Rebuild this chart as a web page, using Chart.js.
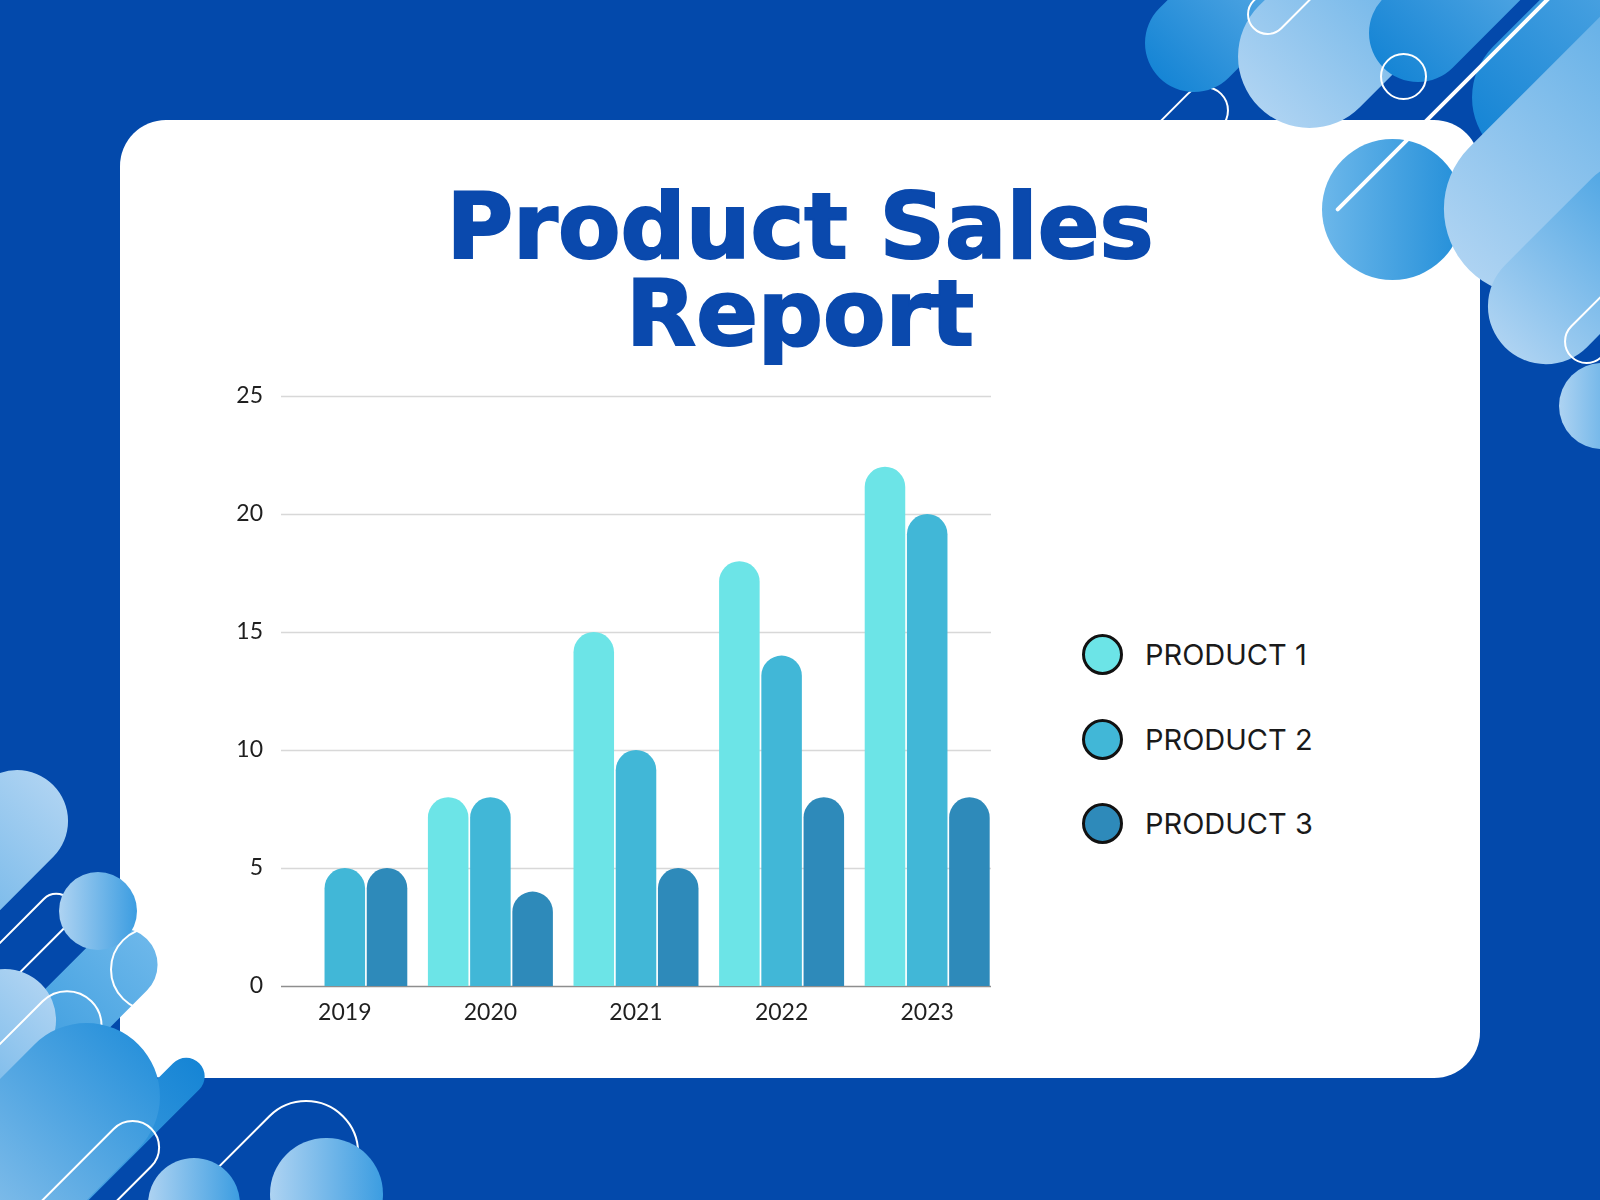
<!DOCTYPE html>
<html>
<head>
<meta charset="utf-8">
<script src="https://cdn.jsdelivr.net/npm/chart.js"></script>
<style>
  html, body { margin:0; padding:0; }
  body { width:1600px; height:1200px; background:#0349ab; position:relative; overflow:hidden; font-family:"Lato", sans-serif; }
  #tarjeta { position:absolute; left:120px; top:120px; width:1360px; height:958px; background:#fff; border-radius:46px; z-index:1; }
  #titulo { position:absolute; left:120px; width:1360px; top:183px; text-align:center; color:#0a49ad;
            font-family:"DejaVu Sans", sans-serif; font-weight:bold; font-size:91px; line-height:87px; z-index:3;
            -webkit-text-stroke:2px #0a49ad; }
  #grafico { position:absolute; left:190px; top:370px; z-index:3; }
  #leyenda { position:absolute; left:1082px; top:0; z-index:3; }
  .fila { position:absolute; left:0; display:flex; align-items:center; white-space:nowrap; height:44px; margin-top:-22px; }
  .punto { width:35px; height:35px; border:3px solid #111; border-radius:50%; }
  .fila span { margin-left:22px; font-size:29px; color:#1a1a1a; font-family:"Inter", sans-serif; }
  .claro { position:absolute; border-radius:9999px; background:linear-gradient(90deg,#aed3f2,#3c9de1); z-index:2; }
  .oscuro { position:absolute; border-radius:9999px; background:linear-gradient(90deg,#1685d5,#72b8ea); z-index:2; }
  .inverso { position:absolute; border-radius:9999px; background:linear-gradient(90deg,#2a92db,#b2d5f2); z-index:2; }
  .medio { position:absolute; border-radius:9999px; background:linear-gradient(90deg,#6cb7ea,#238fd9); z-index:2; }
  .borde { position:absolute; border-radius:9999px; border:2px solid #fff; box-sizing:border-box; z-index:2; }
  .borde0 { position:absolute; border-radius:9999px; border:2px solid #fff; box-sizing:border-box; z-index:0; }
</style>
</head>
<body>
<div id="tarjeta"></div>
<div id="titulo">Product Sales<br>Report</div>
<canvas id="grafico" width="815" height="666" style="width:815px;height:666px"></canvas>
<div id="leyenda"></div>
<script>
// datos
const anios = ['2019', '2020', '2021', '2022', '2023'];
const producto1 = [0, 8, 15, 18, 22];
const producto2 = [5, 8, 10, 14, 20];
const producto3 = [5, 4, 5, 8, 8];
const nombres = ['PRODUCT 1', 'PRODUCT 2', 'PRODUCT 3'];
const maxY = 25;
const pasoY = 5;

// escala de la imagen original (1568 de ancho) a la pagina
const k = 1600 / 1568;

// pieza decorativa: capsula con un extremo redondo en (cx,cy)
const pieza = (cx, cy, r, largo, grados, clase) => {
    const d = document.createElement('div');
    d.className = clase;
    d.style.left = (cx - r) * k + 'px';
    d.style.top = (cy - r) * k + 'px';
    d.style.width = (largo + 2 * r) * k + 'px';
    d.style.height = 2 * r * k + 'px';
    d.style.transformOrigin = r * k + 'px 50%';
    d.style.transform = 'rotate(' + grados + 'deg)';
    document.body.appendChild(d);
}

// arriba a la derecha
pieza(1180, 108, 24, 160, 135, 'borde0');
pieza(1170, 42, 48, 120, -45, 'oscuro');
pieza(1283, 55, 70, 200, -45, 'claro');
pieza(1390, 32, 48, 150, -45, 'oscuro');
pieza(1242, 14, 20, 80, -45, 'borde');
pieza(1513, 95, 70, 200, -45, 'oscuro');
pieza(1375, 75, 23, 0, 0, 'borde');
pieza(1365, 205, 69, 0, 0, 'medio');
pieza(1500, 205, 85, 260, -45, 'claro');
pieza(1515, 300, 57, 120, -45, 'claro');
pieza(1555, 335, 22, 100, -45, 'borde');
pieza(1570, 398, 42, 0, 0, 'claro');
pieza(1310, 205, 1, 300, -45, 'borde');

// abajo a la izquierda
pieza(17, 805, 50, 200, 135, 'claro');
pieza(55, 893, 18, 120, 135, 'borde');
pieza(118, 945, 36, 180, 135, 'medio');
pieza(96, 893, 38, 0, 0, 'claro');
pieza(150, 950, 42, 0, 0, 'borde');
pieza(5, 1000, 50, 150, 135, 'claro');
pieza(65, 1005, 35, 150, 135, 'borde');
pieza(183, 1055, 18, 300, 135, 'oscuro');
pieza(85, 1075, 72, 200, 135, 'inverso');
pieza(130, 1125, 27, 150, 135, 'borde');
pieza(300, 1130, 52, 200, 135, 'borde');
pieza(190, 1180, 45, 0, 0, 'claro');
pieza(320, 1170, 55, 0, 0, 'claro');

// lineas horizontales un poco mas cortas que el area del grafico
const lineasY = {
    id: 'lineasY',
    beforeDatasetsDraw: (chart) => {
        const { ctx, chartArea, scales } = chart;
        const margen = 9;
        ctx.save();
        ctx.lineWidth = 1.5;
        scales.y.ticks.forEach(t => {
            const y = Math.round(scales.y.getPixelForValue(t.value)) + 0.5;
            ctx.strokeStyle = t.value === 0 ? '#8e8e8e' : '#d8d8d8';
            ctx.beginPath();
            ctx.moveTo(chartArea.left + margen, y);
            ctx.lineTo(chartArea.right - margen, y);
            ctx.stroke();
        });
        ctx.restore();
    }
};

const ctx = document.getElementById('grafico').getContext('2d');
const fuenteEjes = { family: 'Lato', size: 23 };

const grafico = new Chart(ctx, {
    type: 'bar',
    data: {
        labels: anios,
        datasets: [
            { label: nombres[0], data: producto1, backgroundColor: '#6ce4e7' },
            { label: nombres[1], data: producto2, backgroundColor: '#41b7d7' },
            { label: nombres[2], data: producto3, backgroundColor: '#2e8aba' }
        ]
    },
    options: {
        responsive: false,
        animation: false,
        layout: { padding: { top: 26, right: 5, left: 0, bottom: 0 } },
        plugins: { legend: { display: false }, tooltip: { enabled: false } },
        datasets: {
            bar: {
                categoryPercentage: 0.87,
                barPercentage: 0.96,
                borderRadius: { topLeft: 100, topRight: 100 },
                borderSkipped: 'bottom'
            }
        },
        scales: {
            x: {
                grid: { display: false, drawTicks: false },
                border: { display: false },
                ticks: { font: fuenteEjes, color: '#1f1f1f', padding: 13 },
                afterFit: (s) => { s.height = 50; }
            },
            y: {
                min: 0,
                max: maxY,
                ticks: { stepSize: pasoY, font: fuenteEjes, color: '#1f1f1f', padding: 9 },
                grid: { display: false, drawTicks: false },
                border: { display: false },
                afterFit: (s) => { s.width = 82; }
            }
        }
    },
    plugins: [lineasY]
});

// leyenda armada con los datasets del grafico
const leyenda = document.getElementById('leyenda');
const filasY = [654, 739, 823];
grafico.data.datasets.forEach((ds, i) => {
    const fila = document.createElement('div');
    fila.className = 'fila';
    fila.style.top = filasY[i] + 'px';
    fila.innerHTML = '<div class="punto" style="background:' + ds.backgroundColor + '"></div><span>' + ds.label + '</span>';
    leyenda.appendChild(fila);
});
</script>
</body>
</html>
